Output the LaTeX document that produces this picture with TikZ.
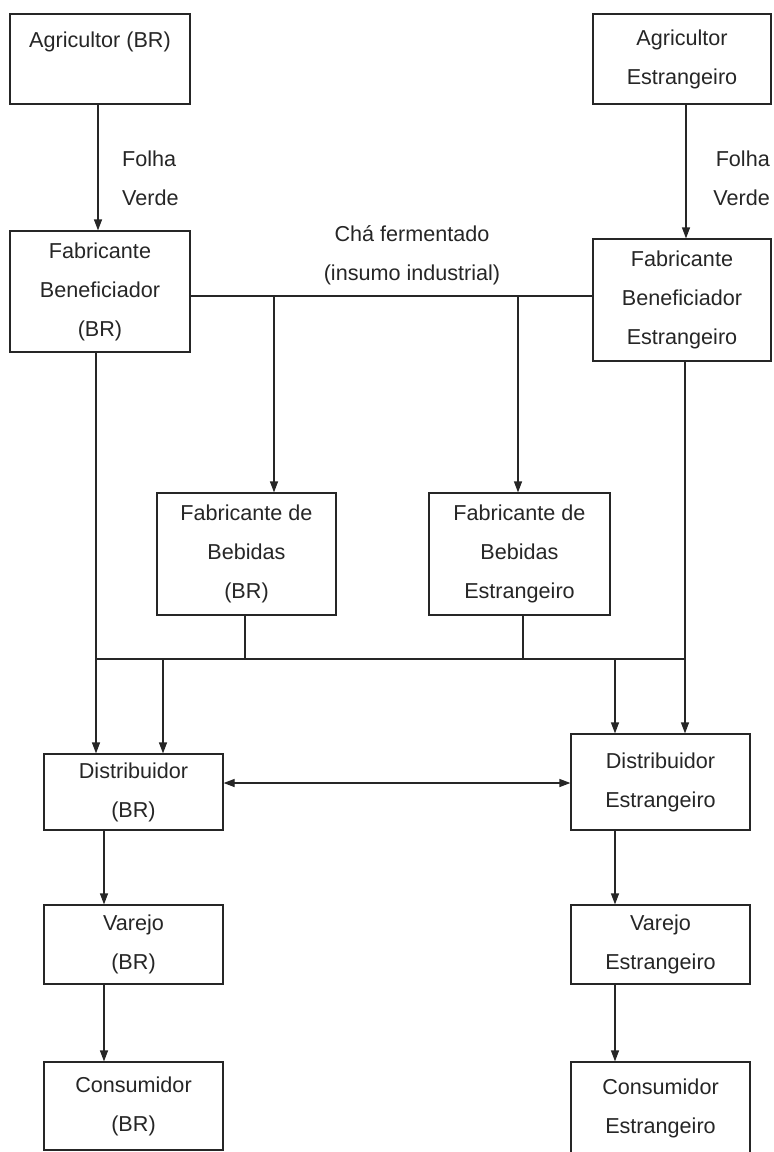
\documentclass[tikz,border=0pt]{standalone}
\usepackage{fontspec}
\setmainfont{Liberation Sans}
\usetikzlibrary{arrows.meta,calc}
\begin{document}
\begin{tikzpicture}[x=1pt,y=-1pt,
  box/.style={draw=black!85, line width=1.2pt, align=center, inner sep=0pt,
    font=\fontsize{21.6}{39}\selectfont, text=black!85},
  lbl/.style={font=\fontsize{21.6}{39}\selectfont, inner sep=0pt, text=black!85},
  wire/.style={draw=black!85, line width=1.2pt},
  arr/.style={wire, -{Triangle[length=11pt,width=8pt]}},
  darr/.style={wire, {Triangle[length=11pt,width=8pt]}-{Triangle[length=11pt,width=8pt]}}]
\fill[white] (0,0) rectangle (774,1152);
\useasboundingbox (0,0) rectangle (774,1152);

% boxes
\node[box, minimum width=180pt, minimum height=90pt] (agbr) at (100,59) {Agricultor (BR)\\\mbox{}};
\node[box, minimum width=178pt, minimum height=90pt] (ages) at (682,59) {Agricultor\\Estrangeiro};
\node[box, minimum width=180pt, minimum height=121pt] (fbbr) at (100,291.5) {Fabricante\\Beneficiador\\(BR)};
\node[box, minimum width=178pt, minimum height=122pt] (fbes) at (682,300) {Fabricante\\Beneficiador\\Estrangeiro};
\node[box, minimum width=179pt, minimum height=122pt] (bebbr) at (246.5,554) {Fabricante de\\Bebidas\\(BR)};
\node[box, minimum width=181pt, minimum height=122pt] (bebes) at (519.5,554) {Fabricante de\\Bebidas\\Estrangeiro};
\node[box, minimum width=179pt, minimum height=76pt] (dibr) at (133.5,792) {Distribuidor\\(BR)};
\node[box, minimum width=179pt, minimum height=96pt] (dies) at (660.5,782) {Distribuidor\\Estrangeiro};
\node[box, minimum width=179pt, minimum height=79pt] (vabr) at (133.5,944.5) {Varejo\\(BR)};
\node[box, minimum width=179pt, minimum height=79pt] (vaes) at (660.5,944.5) {Varejo\\Estrangeiro};
\node[box, minimum width=179pt, minimum height=88pt] (cobr) at (133.5,1106) {Consumidor\\(BR)};
\node[box, minimum width=179pt, minimum height=93pt] (coes) at (660.5,1108.5) {Consumidor\\Estrangeiro};

% labels
\node[lbl, align=left, anchor=west] (folhabr) at (122,178.5) {Folha\\Verde};
\node[lbl, align=right, anchor=east] (folhaes) at (770,178.5) {Folha\\Verde};
\node[lbl, align=center] (cha) at (412,255) {Chá fermentado\\(insumo industrial)};

% junction coordinates
\coordinate (hcha) at (0,296);
\coordinate (bus) at (0,659);
\coordinate (xl) at (96,0);
\coordinate (xr) at (685,0);

% leaf arrows
\draw[arr] ([xshift=-2pt]agbr.south) -- ([xshift=-2pt]fbbr.north);
\draw[arr] ([xshift=4pt]ages.south) -- ([xshift=4pt]fbes.north);

% fermented tea line
\draw[wire] (fbbr.east |- hcha) -- (fbes.west |- hcha);
\coordinate (b1) at (274,296);
\coordinate (b2) at (518,296);
\draw[arr] (b1) -- (b1 |- bebbr.north);
\draw[arr] (b2) -- (b2 |- bebes.north);

% bus line
\draw[wire] (xl |- bus) -- (xr |- bus);
\draw[wire] ([xshift=-1.5pt]bebbr.south) -- ([xshift=-1.5pt]bebbr.south |- bus);
\draw[wire] ([xshift=3.5pt]bebes.south) -- ([xshift=3.5pt]bebes.south |- bus);

% verticals to distributors
\draw[arr] (xl |- fbbr.south) -- (xl |- dibr.north);
\coordinate (x2) at (163,0);
\draw[arr] (x2 |- bus) -- (x2 |- dibr.north);
\coordinate (x3) at (615,0);
\draw[arr] (x3 |- bus) -- (x3 |- dies.north);
\draw[arr] (xr |- fbes.south) -- (xr |- dies.north);

% distributor exchange
\coordinate (hd) at (0,783);
\draw[darr] (dibr.east |- hd) -- (dies.west |- hd);

% down the chains
\coordinate (xb) at (104,0);
\draw[arr] (xb |- dibr.south) -- (xb |- vabr.north);
\draw[arr] (xb |- vabr.south) -- (xb |- cobr.north);
\draw[arr] (x3 |- dies.south) -- (x3 |- vaes.north);
\draw[arr] (x3 |- vaes.south) -- (x3 |- coes.north);
\end{tikzpicture}
\end{document}
